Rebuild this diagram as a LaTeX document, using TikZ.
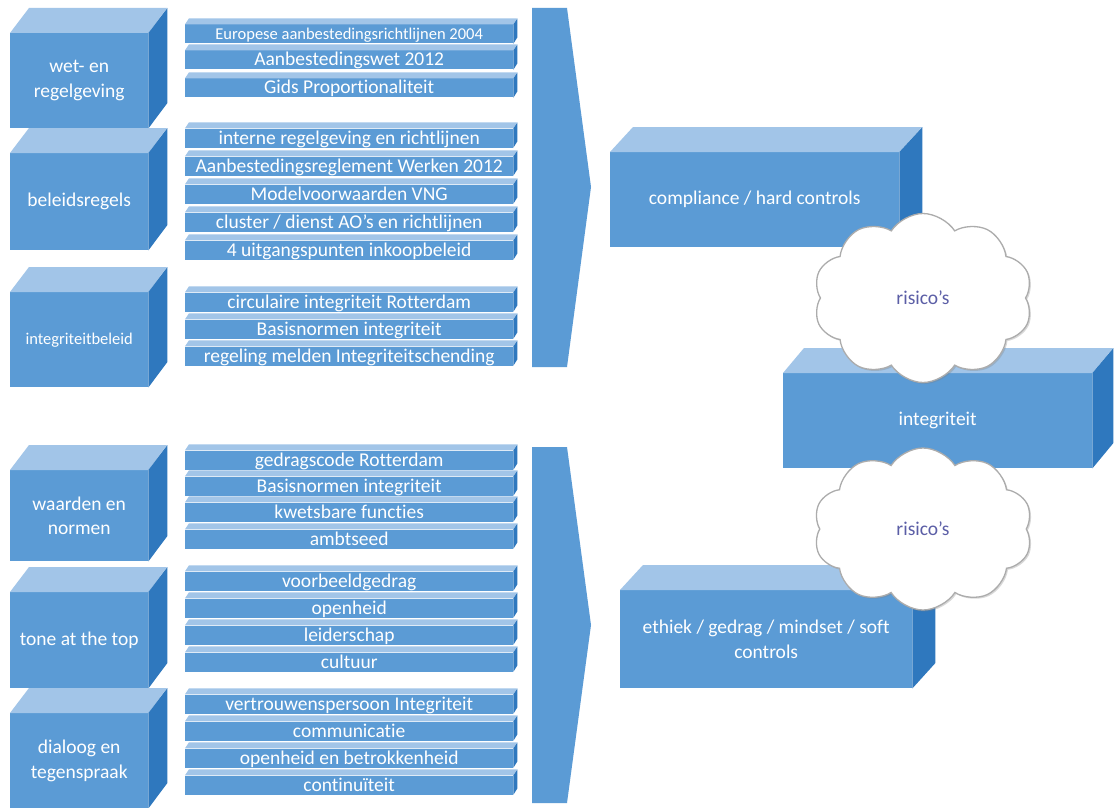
\documentclass[tikz,border=0pt]{standalone}
\usepackage{fontspec}
\setmainfont{Carlito}[Ligatures={NoCommon}]
\usetikzlibrary{shapes.symbols,shadows}
\definecolor{frontc}{HTML}{5B9BD5}
\definecolor{topc}{HTML}{A2C5E8}
\definecolor{sidec}{HTML}{2F78BE}
\definecolor{riskc}{HTML}{5B5EA6}
\tikzset{
  front/.style={fill=frontc, text=white, inner sep=0pt, align=center, anchor=north west},
  topf/.style={fill=topc},
  sidef/.style={fill=sidec},
  barlabel/.style={font=\fontsize{19.5}{22}\selectfont, text height=14.5pt, text depth=2.5pt},
  cubelabel/.style={font=\fontsize{19.5}{24.5}\selectfont},
  chevron/.style={fill=frontc},
  risk/.style={cloud, cloud puffs=10, cloud puff arc=115, cloud ignores aspect, fill=white, draw=gray!65,
    line width=1.3pt, text=riskc, font=\fontsize{19.5}{22}\selectfont,
    drop shadow={opacity=0.3, shadow xshift=1.5pt, shadow yshift=-1.5pt}}
}
% name, x, y (front top-left), w, h, dx, dy, extra style, text
\newcommand{\boxthree}[9]{%
  \node[front, minimum width=#4pt, minimum height=#5pt, #8] (#1) at (#2,#3) {#9};
  \fill[topf] (#1.north west) -- ++(#6,-#7) -- ++(#4,0) -- (#1.north east) -- cycle;
  \fill[sidef] (#1.north east) -- ++(#6,-#7) -- ++(0,#5) -- (#1.south east) -- cycle;
}
% name, y centre, extra style, text
\newcommand{\itembar}[4]{%
  \node[front, anchor=west, minimum width=328pt, minimum height=19pt, barlabel, #3] (#1) at (185,#2) {#4};
  \fill[topf] (#1.north west) -- ++(4,-6) -- ++(328,0) -- (#1.north east) -- cycle;
  \fill[sidef] (#1.north east) -- ++(4,-6) -- ++(0,19) -- (#1.south east) -- cycle;
}
\begin{document}
\begin{tikzpicture}[x=1pt,y=-1pt]
\path[use as bounding box, fill=white] (0,0) rectangle (1120,808);

% left cubes
\boxthree{c1}{10}{33}{138}{95}{19}{25}{cubelabel}{wet- en\\regelgeving}
\boxthree{c2}{10}{153}{138}{97}{19}{25}{cubelabel}{beleidsregels}
\boxthree{c3}{10}{292}{138}{95}{19}{25}{font=\fontsize{16.5}{20}\selectfont}{integriteitbeleid}
\boxthree{c4}{10}{470}{138}{91}{19}{25}{cubelabel}{waarden en\\normen}
\boxthree{c5}{10}{592}{138}{96}{19}{25}{cubelabel}{tone at the top}
\boxthree{c6}{10}{713}{138}{95}{19}{25}{cubelabel}{dialoog en\\tegenspraak}

% item bars
\itembar{a1}{34}{font=\fontsize{16.5}{20}\selectfont}{Europese aanbestedingsrichtlijnen 2004}
\itembar{a2}{60}{}{Aanbestedingswet 2012}
\itembar{a3}{88}{}{Gids Proportionaliteit}

\itembar{b1}{138}{}{interne regelgeving en richtlijnen}
\itembar{b2}{166}{}{Aanbestedingsreglement Werken 2012}
\itembar{b3}{194}{}{Modelvoorwaarden VNG}
\itembar{b4}{222}{}{cluster / dienst AO’s en richtlijnen}
\itembar{b5}{250}{}{4 uitgangspunten inkoopbeleid}

\itembar{i1}{302}{}{circulaire integriteit Rotterdam}
\itembar{i2}{329}{}{Basisnormen integriteit}
\itembar{i3}{356}{}{regeling melden Integriteitschending}

\itembar{n1}{460}{}{gedragscode Rotterdam}
\itembar{n2}{486}{}{Basisnormen integriteit}
\itembar{n3}{512}{}{kwetsbare functies}
\itembar{n4}{539}{}{ambtseed}

\itembar{t1}{581}{}{voorbeeldgedrag}
\itembar{t2}{608}{}{openheid}
\itembar{t3}{635}{}{leiderschap}
\itembar{t4}{662}{}{cultuur}

\itembar{d1}{704}{}{vertrouwenspersoon Integriteit}
\itembar{d2}{731}{}{communicatie}
\itembar{d3}{758}{}{openheid en betrokkenheid}
\itembar{d4}{785}{}{continuïteit}

% chevrons
\fill[chevron] (532,8) -- (567,8) -- (591,187) -- (567,367) -- (532,367) -- cycle;
\fill[chevron] (532,447) -- (567,447) -- (591,625) -- (567,803) -- (532,803) -- cycle;

% right boxes
\boxthree{hard}{610}{152}{289}{95}{23}{25}{cubelabel}{compliance / hard controls}
\boxthree{integ}{783}{373}{309}{95}{21}{25}{cubelabel}{integriteit}
\boxthree{soft}{620}{590}{292}{98}{23}{25}{cubelabel}{ethiek / gedrag / mindset / soft\\controls}

% clouds
\node[risk, minimum width=219pt, minimum height=169pt] (r1) at (923,298) {risico’s};
\node[risk, minimum width=219pt, minimum height=162pt] (r2) at (923,529) {risico’s};
\end{tikzpicture}
\end{document}
